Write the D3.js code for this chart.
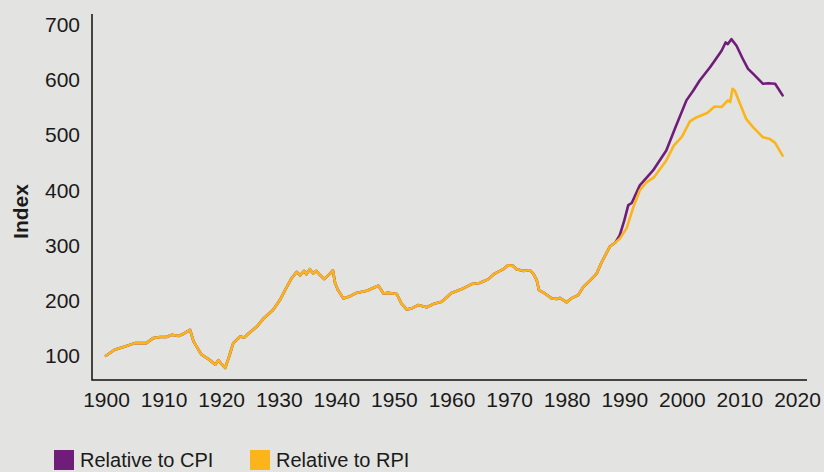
<!DOCTYPE html>
<html lang="en">
<head>
  <meta charset="utf-8">
  <title>Index relative to CPI and RPI</title>
  <style>
    html,body { margin:0; padding:0; background:#e3e3e1; }
    svg { display:block; }
    text { font-family: "Liberation Sans", Arial, sans-serif; fill:#1a1a1a; }
  </style>
  <script src="https://d3js.org/d3.v7.min.js"></script>
</head>
<body>
<svg width="824" height="472"></svg>
<script>
// common history, both series identical until the late 1980s
const histYears = [1900,1901.5,1903.3,1905,1907,1908.2,1909.4,1910.5,1911.4,1912.6,1913.5,1914.6,1915.2,1916,1916.6,1917.8,1919,1919.5,1920,1920.7,1921.3,1922.1,1923.3,1924,1924.7,1926.2,1927.3,1929,1930.2,1931.4,1932.2,1933.1,1933.7,1934.4,1934.8,1935.4,1936,1936.5,1937.2,1937.9,1938.9,1939.4,1939.8,1940.3,1941.2,1942.4,1943.5,1945.3,1947.3,1948.2,1949,1950.5,1951.3,1952.2,1953.1,1954.2,1955.7,1957.1,1958.3,1960,1961.8,1963.5,1964.9,1966.4,1967.5,1969,1969.8,1970.7,1971.3,1972.4,1973.6,1974.2,1974.8,1975.2,1976.2,1977.4,1978.3,1978.8,1980,1980.8,1982,1982.9,1984.3,1985.2,1986.1,1986.9,1987.5,1988.5];
const histValues = [100,111,117,123,123,132,134,134,138,136,140,147,126,112,102,94,84,92,86,78,96,123,135,133,140,153,167,183,201,225,240,252,246,254,248,257,249,254,246,239,249,255,231,219,204,208,214,218,227,213,214,212,195,184,186,192,188,195,198,214,221,230,232,239,249,257,264,263,257,254,255,249,237,219,213,204,203,205,197,204,210,225,239,249,270,286,298,306];

const cpiYears = [1989.2,1990,1990.7,1991.3,1992.7,1995,1997.3,1999,2000.8,2002,2003.1,2004.9,2005.7,2006.9,2007.6,2008,2008.6,2009.5,2010.6,2011.5,2012.4,2014.1,2015,2016.2,2017.5];
const cpiValues = [318,345,373,377,409,436,472,517,563,581,599,623,635,653,668,665,674,662,638,620,611,593,594,593,572];

const rpiYears = [1989.2,1990.4,1991.6,1992.7,1993.8,1995.2,1997.3,1998.6,2000,2001.4,2002.3,2004.4,2005.7,2006.9,2008,2008.4,2008.8,2009.2,2010.1,2011.2,2012.4,2014.1,2015.3,2016.2,2017.5];
const rpiValues = [312,331,370,400,414,424,454,481,497,525,531,540,552,551,563,560,584,581,557,529,514,496,493,486,463];

const xTicks = d3.range(1900, 2021, 10);
const yTicks = [100,200,300,400,500,600,700];
const seriesNames = ["Relative to CPI", "Relative to RPI"];
const colors = ["#6f1d78", "#fbb41a"];

const svg = d3.select("svg");
const x = d3.scaleLinear().domain([1900, 2020]).range([106, 797]);
const y = d3.scaleLinear().domain([100, 700]).range([355.8, 24.8]);

const toPts = (ys, vs) => ys.map((d, i) => ({year: d, value: vs[i]}));
const hist = toPts(histYears, histValues);
const series = [
  hist.concat(toPts(cpiYears, cpiValues)),
  hist.concat(toPts(rpiYears, rpiValues))
];

// axes
const yAxis = svg.append("g")
  .attr("transform", "translate(92,0)")
  .call(d3.axisLeft(y).tickValues(yTicks).tickSize(0).tickPadding(12));
const xAxis = svg.append("g")
  .attr("transform", "translate(0,380)")
  .call(d3.axisBottom(x).tickValues(xTicks).tickFormat(d3.format("d")).tickSize(0).tickPadding(12));
[yAxis, xAxis].forEach(g => {
  g.select(".domain").remove();
  g.selectAll("text").attr("font-size", 21).attr("fill", "#1a1a1a")
    .style("font-family", '"Liberation Sans", Arial, sans-serif');
});

svg.append("path")
  .attr("d", "M92,14V380H807")
  .attr("fill", "none")
  .attr("stroke", "#111")
  .attr("stroke-width", 1.5);

svg.append("text")
  .attr("transform", "translate(28,211.5) rotate(-90)")
  .attr("text-anchor", "middle")
  .attr("font-size", 21)
  .attr("font-weight", "bold")
  .text("Index");

// lines
const line = d3.line().x(d => x(d.year)).y(d => y(d.value));
svg.selectAll("path.series")
  .data(series)
  .join("path")
    .attr("class", "series")
    .attr("d", line)
    .attr("fill", "none")
    .attr("stroke", (d, i) => colors[i])
    .attr("stroke-width", 2.6)
    .attr("stroke-linejoin", "round")
    .attr("stroke-linecap", "round");

// legend (sits at the very bottom edge, as in the original)
const legendX = [54, 250];
const lg = svg.selectAll("g.legend")
  .data(seriesNames)
  .join("g")
    .attr("class", "legend")
    .attr("transform", (d, i) => `translate(${legendX[i]},450)`);
lg.append("rect")
  .attr("width", 20).attr("height", 20)
  .attr("fill", (d, i) => colors[i]);
lg.append("text")
  .attr("x", 26).attr("y", 17)
  .attr("font-size", 20)
  .text(d => d);
</script>
</body>
</html>
